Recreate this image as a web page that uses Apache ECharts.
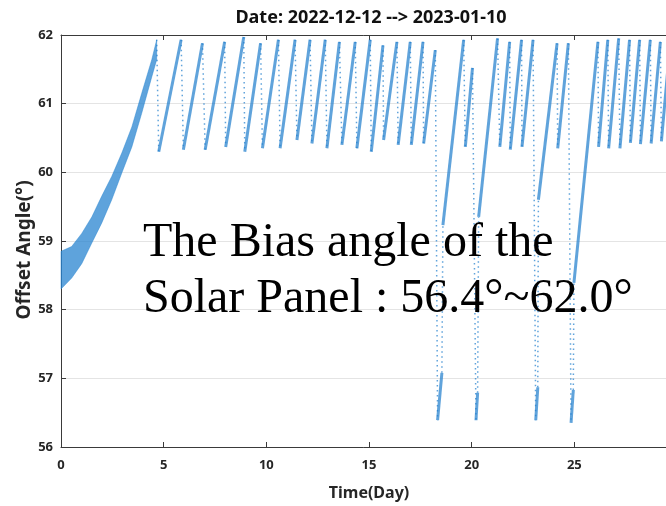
<!DOCTYPE html>
<html><head><meta charset="utf-8">
<script src="https://cdn.jsdelivr.net/npm/echarts@6/dist/echarts.min.js"></script>
<style>html,body{margin:0;padding:0;background:#fff}#c{width:666px;height:506px}</style>
</head><body><div id="c"></div>
<script>
// ---- data ----
const titleText = 'Date: 2022-12-12 --> 2023-01-10';
const xName = 'Time(Day)';
const yName = 'Offset Angle(°)';
const noteLines = ['The Bias angle of the', 'Solar Panel : 56.4°~62.0°'];

// initial rising band (day, upper edge, lower edge)
const bandDay   = [0, 0.52, 1.01, 1.50, 1.98, 2.47, 2.96, 3.45, 3.93, 4.42, 4.66];
const bandUpper = [58.85, 58.92, 59.11, 59.35, 59.65, 59.94, 60.28, 60.66, 61.15, 61.64, 61.93];
const bandLower = [58.30, 58.46, 58.67, 58.97, 59.26, 59.60, 59.99, 60.37, 60.86, 61.39, 61.64];

// sawtooth rises: start (day, angle) -> end (day, angle)
const riseStartDay   = [4.76, 5.96, 7.02, 8.02, 8.95, 9.81, 10.67, 11.49, 12.22, 12.95, 13.68, 14.41, 15.11, 15.71, 16.42, 17.06, 17.66, 18.34, 18.60, 19.69, 20.21, 20.34, 21.37, 21.88, 22.45, 23.12, 23.25, 24.19, 24.84, 24.98, 26.18, 26.67, 27.22, 27.73, 28.22, 28.74, 29.24];
const riseStartAngle = [60.30, 60.33, 60.33, 60.37, 60.30, 60.35, 60.35, 60.47, 60.42, 60.35, 60.40, 60.35, 60.30, 60.47, 60.40, 60.40, 60.42, 56.39, 59.23, 60.37, 56.39, 59.35, 60.37, 60.33, 60.37, 56.39, 59.60, 60.35, 56.35, 58.39, 60.37, 60.35, 60.35, 60.43, 60.41, 60.42, 60.45];
const riseEndDay     = [5.85, 6.89, 7.97, 8.90, 9.72, 10.59, 11.40, 12.13, 12.87, 13.56, 14.33, 15.06, 15.68, 16.36, 17.01, 17.63, 18.23, 18.55, 19.61, 20.04, 20.29, 21.26, 21.85, 22.43, 22.99, 23.22, 24.16, 24.71, 24.95, 26.15, 26.63, 27.16, 27.69, 28.18, 28.70, 29.19, 29.68];
const riseEndAngle   = [61.93, 61.88, 61.90, 61.97, 61.88, 61.93, 61.93, 61.93, 61.93, 61.90, 61.90, 61.93, 61.85, 61.90, 61.90, 61.90, 61.78, 57.08, 61.93, 61.52, 56.79, 61.95, 61.90, 61.93, 61.93, 56.87, 61.88, 61.88, 56.83, 61.90, 61.93, 61.95, 61.93, 61.93, 61.93, 61.90, 61.93];

// ---- build series data ----
const blue = 'rgba(35,128,205,0.85)';
const riseData = riseStartDay.map((d, i) => ({coords: [[d, riseStartAngle[i]], [riseEndDay[i], riseEndAngle[i]]]}));
const dropData = [];
dropData.push({coords: [[bandDay[bandDay.length - 1], bandUpper[bandUpper.length - 1]], [riseStartDay[0], riseStartAngle[0]]]});
for (let i = 0; i < riseStartDay.length - 1; i++) {
  dropData.push({coords: [[riseEndDay[i], riseEndAngle[i]], [riseStartDay[i + 1], riseStartAngle[i + 1]]]});
}

const axisColor = '#3a3a3a';
const labelFont = {fontFamily: 'Noto Sans', fontWeight: 'bold', fontSize: 13, color: '#262626'};

const option = {
  animation: false,
  backgroundColor: '#ffffff',
  title: {
    text: titleText, left: 366, top: 4, textAlign: 'center',
    textStyle: {fontFamily: 'Noto Sans', fontWeight: 'bold', fontSize: 18, color: '#111'}
  },
  grid: {left: 61, top: 35, width: 616, height: 412, containLabel: false, outerBoundsMode: 'none'},
  xAxis: [{
    type: 'value', min: 0, max: 30, interval: 5, position: 'bottom',
    axisLine: {show: true, onZero: false, lineStyle: {color: axisColor, width: 1}},
    axisTick: {show: true, inside: true, length: 5, lineStyle: {color: axisColor}},
    axisLabel: Object.assign({margin: 12}, labelFont),
    splitLine: {show: false},
    name: xName, nameLocation: 'middle', nameGap: 38,
    nameTextStyle: {fontFamily: 'Noto Sans', fontWeight: 'bold', fontSize: 16, color: '#262626'}
  }, {
    type: 'value', min: 0, max: 30, interval: 5, position: 'top',
    axisLine: {show: true, onZero: false, lineStyle: {color: axisColor, width: 1}},
    axisTick: {show: true, inside: true, length: 5, lineStyle: {color: axisColor}},
    axisLabel: {show: false}, splitLine: {show: false}
  }],
  yAxis: [{
    type: 'value', min: 56, max: 62, interval: 1,
    axisLine: {show: true, onZero: false, lineStyle: {color: axisColor, width: 1}},
    axisTick: {show: true, inside: true, length: 5, lineStyle: {color: axisColor}},
    axisLabel: Object.assign({margin: 8}, labelFont),
    splitLine: {show: true, lineStyle: {color: '#e4e4e4', width: 1}}
  }],
  series: [{
    type: 'custom', xAxisIndex: 0, yAxisIndex: 0,
    data: [[bandDay[0], bandLower[0]]],
    renderItem: function (params, api) {
      const pts = [];
      for (let i = 0; i < bandDay.length; i++) pts.push(api.coord([bandDay[i], bandUpper[i]]));
      for (let i = bandDay.length - 1; i >= 0; i--) pts.push(api.coord([bandDay[i], bandLower[i]]));
      return {type: 'polygon', shape: {points: pts}, style: {fill: 'rgba(40,132,208,0.75)', stroke: 'rgba(40,132,208,0.45)', lineWidth: 1}};
    },
    silent: true
  }, {
    type: 'lines', coordinateSystem: 'cartesian2d', xAxisIndex: 0, yAxisIndex: 0,
    data: dropData, silent: true,
    lineStyle: {color: blue, width: 1.5, type: [1.5, 3.5], opacity: 0.85}
  }, {
    type: 'lines', coordinateSystem: 'cartesian2d', xAxisIndex: 0, yAxisIndex: 0,
    data: riseData, silent: true,
    lineStyle: {color: blue, width: 3, opacity: 0.85}
  }],
  graphic: [{
    type: 'text', x: 25, y: 250, rotation: Math.PI / 2, z: 100,
    style: {text: yName, font: 'bold 19px "Noto Sans", sans-serif', fill: '#262626', align: 'center', verticalAlign: 'middle'}
  }, {
    type: 'text', left: 143, top: 219, z: 100,
    style: {text: noteLines[0], font: '48px "Liberation Serif", "Times New Roman", serif', fill: '#000'}
  }, {
    type: 'text', left: 143, top: 275, z: 100,
    style: {text: noteLines[1], font: '48px "Liberation Serif", "Times New Roman", serif', fill: '#000'}
  }]
};
const chart = echarts.init(document.getElementById('c'));
chart.setOption(option);
</script>
</body></html>
